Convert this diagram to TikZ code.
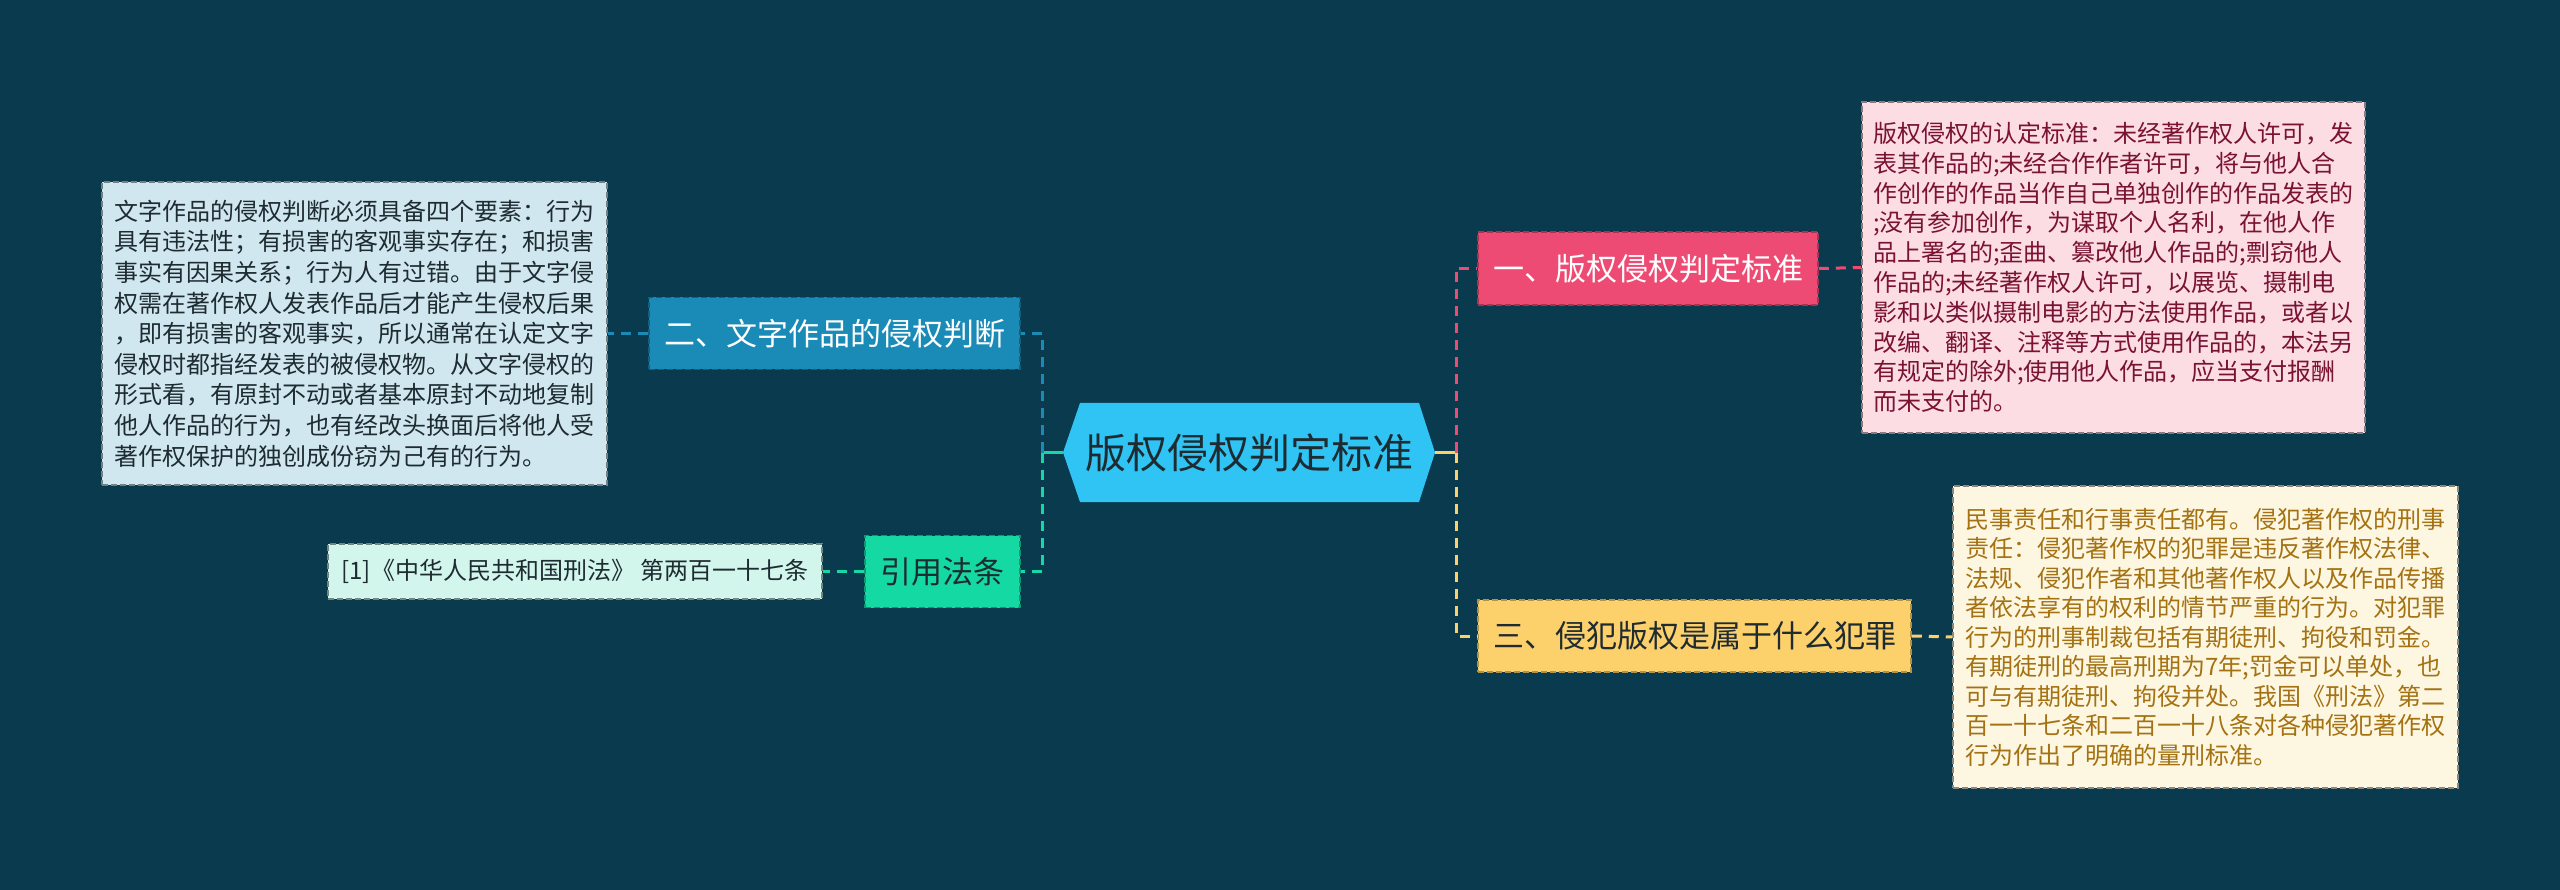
\documentclass[tikz,border=0pt]{standalone}
\usepackage{fontspec}
\setmainfont{Noto Sans CJK SC}
\definecolor{bg}{HTML}{093A4E}
\definecolor{hexc}{HTML}{2FC4F4}
\definecolor{bluen}{HTML}{1A8BB6}
\definecolor{bluebox}{HTML}{D0E7EF}
\definecolor{greenn}{HTML}{14D9A2}
\definecolor{greenbox}{HTML}{D2F5EC}
\definecolor{pinkn}{HTML}{EE4B74}
\definecolor{pinkbox}{HTML}{FCDDE4}
\definecolor{yellown}{HTML}{FCD06B}
\definecolor{yellowbox}{HTML}{FDF6E1}
\definecolor{darktext}{HTML}{1E2B31}
\definecolor{pinktext}{HTML}{7A1232}
\definecolor{yellowtext}{HTML}{A47212}
\begin{document}
\begin{tikzpicture}[x=1pt,y=-1pt,
  lvl/.style={fill=#1, draw=#1!70!black, line width=1.5pt, dash pattern=on 6pt off 3pt,
    minimum height=72pt, inner xsep=0pt, inner ysep=0pt, font=\fontsize{31}{36}\selectfont},
  leaf/.style={fill=#1, draw=#1!55!black, line width=1.5pt, dash pattern=on 6pt off 3pt,
    inner ysep=0pt, align=left},
  conn/.style={draw=#1, line width=3pt, dash pattern=on 10pt off 7pt},
  stub/.style={draw=#1, line width=3pt}]
\fill[bg] (0,0) rectangle (2560,890);
% central hexagon
\fill[hexc] (1063,452.5) -- (1080,403) -- (1419,403) -- (1435,452.5) -- (1419,502) -- (1080,502) -- cycle;
\node[minimum width=372pt, minimum height=99pt, inner sep=0pt, text=darktext,
  font=\fontsize{41}{48}\selectfont] (c) at (1249,452.5) {版权侵权判定标准};
% left side
\node[lvl=bluen, text=white, minimum width=371pt] (n2) at (834.5,333.5) {二、文字作品的侵权判断};
\node[lvl=greenn, text=darktext, minimum width=155pt] (n4) at (942.5,571.5) {引用法条};
\node[leaf=bluebox, text=darktext, text width=480pt, inner xsep=12.5pt, minimum height=303pt,
  font=\fontsize{24}{30.6}\selectfont] (lb) at (354.5,333.5)
  {文字作品的侵权判断必须具备四个要素：行为\\
   具有违法性；有损害的客观事实存在；和损害\\
   事实有因果关系；行为人有过错。由于文字侵\\
   权需在著作权人发表作品后才能产生侵权后果\\
   ，即有损害的客观事实，所以通常在认定文字\\
   侵权时都指经发表的被侵权物。从文字侵权的\\
   形式看，有原封不动或者基本原封不动地复制\\
   他人作品的行为，也有经改头换面后将他人受\\
   著作权保护的独创成份窃为己有的行为。};
\node[leaf=greenbox, text=darktext, minimum width=494pt, minimum height=55pt, inner xsep=13pt,
  font=\fontsize{24}{28}\selectfont] (ref) at (575,571.5)
  {[1]《中华人民共和国刑法》 第两百一十七条};
% right side
\node[lvl=pinkn, text=white, minimum width=340pt, minimum height=73pt] (n1) at (1648,268.5) {一、版权侵权判定标准};
\node[lvl=yellown, text=darktext, minimum width=433pt] (n3) at (1694.5,636) {三、侵犯版权是属于什么犯罪};
\node[leaf=pinkbox, text=pinktext, text width=481pt, inner xsep=11pt, minimum height=331pt,
  font=\fontsize{24}{29.8}\selectfont] (pb) at (2113.5,267.5)
  {版权侵权的认定标准：未经著作权人许可，发\\
   表其作品的;未经合作作者许可，将与他人合\\
   作创作的作品当作自己单独创作的作品发表的\\
   ;没有参加创作，为谋取个人名利，在他人作\\
   品上署名的;歪曲、篡改他人作品的;剽窃他人\\
   作品的;未经著作权人许可，以展览、摄制电\\
   影和以类似摄制电影的方法使用作品，或者以\\
   改编、翻译、注释等方式使用作品的，本法另\\
   有规定的除外;使用他人作品，应当支付报酬\\
   而未支付的。};
\node[leaf=yellowbox, text=yellowtext, text width=480pt, inner xsep=12.5pt, minimum height=302pt,
  font=\fontsize{24}{29.5}\selectfont] (yb) at (2205.5,637)
  {民事责任和行事责任都有。侵犯著作权的刑事\\
   责任：侵犯著作权的犯罪是违反著作权法律、\\
   法规、侵犯作者和其他著作权人以及作品传播\\
   者依法享有的权利的情节严重的行为。对犯罪\\
   行为的刑事制裁包括有期徒刑、拘役和罚金。\\
   有期徒刑的最高刑期为7年;罚金可以单处，也\\
   可与有期徒刑、拘役并处。我国《刑法》第二\\
   百一十七条和二百一十八条对各种侵犯著作权\\
   行为作出了明确的量刑标准。};
% connectors
\coordinate (lt) at (1042,452.5);
\coordinate (rt) at (1456,452.5);
\draw[stub=greenn] (c.west) -- (lt);
\draw[conn=bluen] (lt) |- (n2.east);
\draw[conn=greenn] (lt) |- (n4.east);
\draw[conn=bluen] (n2.west) -- (lb.east);
\draw[conn=greenn] (n4.west) -- (ref.east);
\draw[stub=yellown] (c.east) -- (rt);
\draw[conn=pinkn] (rt) |- (n1.west);
\draw[conn=yellown] (rt) |- (n3.west);
\draw[conn=pinkn] (n1.east) -- (pb.west);
\draw[conn=yellown] (n3.east) -- (yb.west);
\end{tikzpicture}
\end{document}
